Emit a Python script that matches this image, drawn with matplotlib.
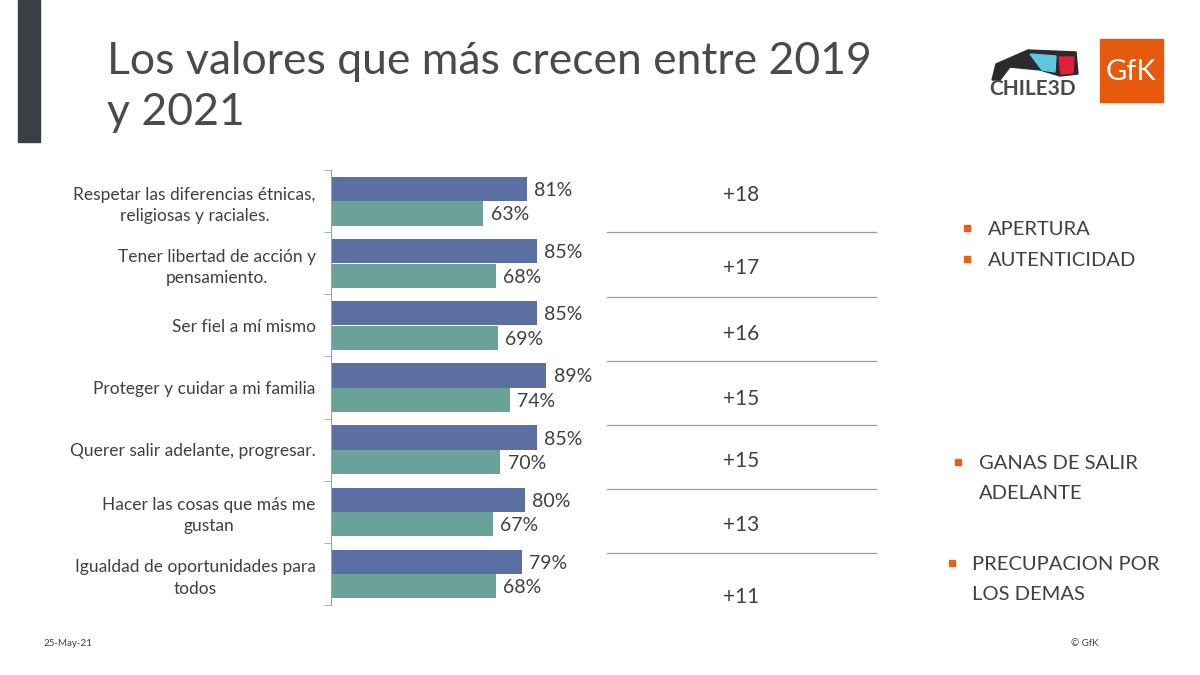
import matplotlib.pyplot as plt
from matplotlib.patches import Rectangle, Polygon
import numpy as np

plt.rcParams['font.family'] = ['Lato', 'DejaVu Sans']

categorias = [
    'Respetar las diferencias étnicas,\nreligiosas y raciales.',
    'Tener libertad de acción y\npensamiento.',
    'Ser fiel a mí mismo',
    'Proteger y cuidar a mi familia',
    'Querer salir adelante, progresar.',
    'Hacer las cosas que más me\ngustan',
    'Igualdad de oportunidades para\ntodos',
]
valores_2021 = [81, 85, 85, 89, 85, 80, 79]
valores_2019 = [63, 68, 69, 74, 70, 67, 68]
diferencias = ['+18', '+17', '+16', '+15', '+15', '+13', '+11']

W, H = 1200, 675
def fx(x):
    return x / W
def fy(y):
    return 1 - y / H

gris = '#404040'
azul = '#5B6FA2'
verde = '#6AA29A'
naranja = '#E8601C'

fig = plt.figure(figsize=(12, 6.75), dpi=100)

# barra oscura del título
fig.patches.append(Rectangle((fx(18), fy(142)), fx(22), 142 / H, transform=fig.transFigure,
                             color='#3A3F44', zorder=0))
fig.text(fx(107), fy(125), 'Los valores que más crecen entre 2019\ny 2021', fontsize=32,
         fontweight='normal', color='#4A4A4A', va='baseline', linespacing=1.3)

# gráfico de barras
ax = fig.add_axes([fx(331), fy(605), 242 / W, 435 / H])
y = np.arange(len(categorias))
alto = 0.39
b1 = ax.barh(y - 0.195, valores_2021, height=alto, color=azul)
b2 = ax.barh(y + 0.2, valores_2019, height=alto, color=verde)
for barras, vals in [(b1, valores_2021), (b2, valores_2019)]:
    for b, v in zip(barras, vals):
        ax.text(b.get_width() + 3, b.get_y() + b.get_height() / 2, f'{v}%',
                va='center_baseline', ha='left', fontsize=14, color=gris, clip_on=False)

ax.set_xlim(0, 100)
ax.set_ylim(6.5, -0.5)
ax.set_xticks([])
ax.set_yticks(y)
ax.set_yticklabels(categorias, fontsize=12.5, color=gris, ha='right', linespacing=1.4)
for lab in ax.get_yticklabels():
    lab.set_multialignment('center')
ax.tick_params(axis='y', which='major', length=0, pad=11)
ax.set_yticks(np.arange(-0.5, 7, 1), minor=True)
ax.tick_params(axis='y', which='minor', length=5, color='#A0A0A0')
for s in ['top', 'right', 'bottom']:
    ax.spines[s].set_visible(False)
ax.spines['left'].set_color('#A0A0A0')

# columna de diferencias
pos_dif = [193, 266, 332, 397, 459, 523, 595]
for d, py in zip(diferencias, pos_dif):
    fig.text(fx(741), fy(py), d, fontsize=15, color=gris, ha='center', va='center_baseline')
for py in [232, 297, 361, 425, 489, 553]:
    fig.add_artist(plt.Line2D([fx(607), fx(876)], [fy(py), fy(py)], color='#9A9A9A', lw=0.9))

# valores de la derecha
bullets = [
    (967, 988, 228, 'APERTURA'),
    (967, 988, 259, 'AUTENTICIDAD'),
    (958, 979, 462, 'GANAS DE SALIR'),
    (None, 979, 492, 'ADELANTE'),
    (952, 972, 563, 'PRECUPACION POR'),
    (None, 972, 593, 'LOS DEMAS'),
]
for bx, tx, py, txt in bullets:
    if bx is not None:
        fig.patches.append(Rectangle((fx(bx - 3), fy(py + 3)), 6 / W, 6 / H,
                                     transform=fig.transFigure, color=naranja))
    fig.text(fx(tx), fy(py), txt, fontsize=14.5, color=gris, va='center_baseline')

# logo GfK
fig.patches.append(Rectangle((fx(1100), fy(102)), 63 / W, 63 / H, transform=fig.transFigure,
                             color='#E55A0C'))
fig.text(fx(1131), fy(72), 'GfK', fontsize=21, color='white', ha='center', va='center')

# logo CHILE3D
fig.text(fx(1033), fy(89), 'CHILE3D', fontsize=15, fontweight='bold', color='#4A4A4A',
         ha='center', va='center')
gafas = [(992, 80), (996, 64), (1028, 50), (1076, 52), (1078, 74), (1060, 76), (1040, 70),
         (1010, 67), (1000, 80)]
fig.patches.append(Polygon([(fx(a), fy(b)) for a, b in gafas], closed=True,
                           transform=fig.transFigure, color='#2B2B2B'))
fig.patches.append(Polygon([(fx(a), fy(b)) for a, b in [(1030, 54), (1056, 56), (1055, 72), (1042, 70)]],
                           closed=True, transform=fig.transFigure, color='#5BC8E0'))
fig.patches.append(Polygon([(fx(a), fy(b)) for a, b in [(1059, 57), (1074, 57), (1073, 73), (1061, 74)]],
                           closed=True, transform=fig.transFigure, color='#E0203A'))

# pie
fig.text(fx(44), fy(644), '25-May-21', fontsize=7, color=gris, va='center')
fig.text(fx(1071), fy(644), '© GfK', fontsize=7, color=gris, va='center')

fig.savefig('out.png', dpi=100)
